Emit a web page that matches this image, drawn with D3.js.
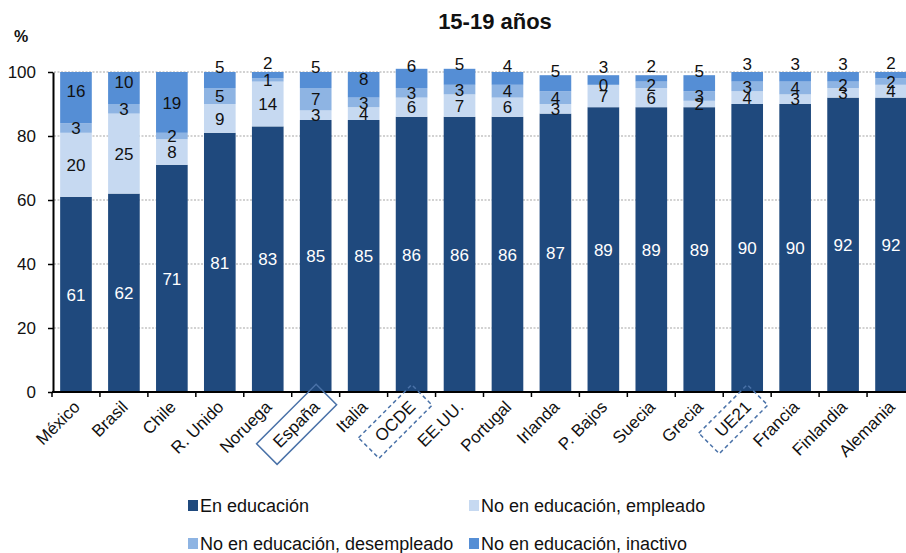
<!DOCTYPE html>
<html>
<head>
<meta charset="utf-8">
<script src="https://cdn.jsdelivr.net/npm/d3@7"></script>
<style>
  body { margin: 0; background: #fff; }
  svg { display: block; }
  text { font-family: "Liberation Sans", Arial, sans-serif; }
</style>
</head>
<body>
<svg id="chart" width="906" height="553"></svg>
<script>
// Share of 15-19 year olds by education / employment status (%)
const categories = ["México", "Brasil", "Chile", "R. Unido", "Noruega", "España", "Italia", "OCDE", "EE.UU.",
  "Portugal", "Irlanda", "P. Bajos", "Suecia", "Grecia", "UE21", "Francia", "Finlandia", "Alemania"];
const enEducacion = [61, 62, 71, 81, 83, 85, 85, 86, 86, 86, 87, 89, 89, 89, 90, 90, 92, 92];
const empleado    = [20, 25, 8, 9, 14, 3, 4, 6, 7, 6, 3, 7, 6, 2, 4, 3, 3, 4];
const desempleado = [3, 3, 2, 5, 1, 7, 3, 3, 3, 4, 4, 0, 2, 3, 3, 4, 2, 2];
const inactivo    = [16, 10, 19, 5, 2, 5, 8, 6, 5, 4, 5, 3, 2, 5, 3, 3, 3, 2];
const seriesNames = ["En educación", "No en educación, empleado",
  "No en educación, desempleado", "No en educación, inactivo"];
const yTicks = [0, 20, 40, 60, 80, 100];
const chartTitle = "15-19 años";
const yUnit = "%";
// Categories drawn with a frame around their axis label
const framed = [{ name: "España", dashed: false }, { name: "OCDE", dashed: true }, { name: "UE21", dashed: true }];

const colors = ["#1F497D", "#C6D9F1", "#8EB4E3", "#558ED5"];
const labelColors = ["#ffffff", "#111111", "#111111", "#111111"];

const svg = d3.select("#chart");
const W = 906;

const x = d3.scaleBand().domain(categories).range([52, 915]).paddingInner(0.34).paddingOuter(0.17);
const y = d3.scaleLinear().domain([0, 100]).range([392, 72]);

const keys = ["s0", "s1", "s2", "s3"];
const rows = categories.map((c, i) => ({
  cat: c, s0: enEducacion[i], s1: empleado[i], s2: desempleado[i], s3: inactivo[i]
}));
const stacked = d3.stack().keys(keys)(rows);

// Title and unit
svg.append("text").attr("x", 495).attr("y", 29).attr("text-anchor", "middle")
  .attr("font-size", 22).attr("font-weight", "bold").attr("fill", "#111").text(chartTitle);
svg.append("text").attr("x", 21).attr("y", 42).attr("text-anchor", "middle")
  .attr("font-size", 16).attr("font-weight", "bold").attr("fill", "#111").text(yUnit);

// Dotted gridlines
svg.append("g").selectAll("line").data(yTicks.filter(t => t > 0)).join("line")
  .attr("x1", 54).attr("x2", W).attr("y1", d => y(d)).attr("y2", d => y(d))
  .attr("stroke", "#c4c4c4").attr("stroke-width", 1.5).attr("stroke-dasharray", "2,1.5");

// Stacked bars
const layers = svg.append("g").selectAll("g").data(stacked).join("g")
  .attr("fill", (d, i) => colors[i]);
layers.selectAll("rect").data(d => d).join("rect")
  .attr("x", d => x(d.data.cat))
  .attr("width", x.bandwidth())
  .attr("y", d => y(d[1]))
  .attr("height", d => y(d[0]) - y(d[1]));

// Value labels: centred in each segment; the top segment's label is lifted
function labelValue(d, li) {
  const v = d[1] - d[0];
  let mid = (d[0] + d[1]) / 2;
  if (li === 3) mid += v <= 6 ? 4 : (v <= 16 ? 2 : 0);
  return mid;
}
stacked.forEach((layer, li) => {
  svg.append("g").selectAll("text").data(layer).join("text")
    .attr("x", d => x(d.data.cat) + x.bandwidth() / 2)
    .attr("y", d => y(labelValue(d, li)))
    .attr("dy", "0.36em")
    .attr("text-anchor", "middle")
    .attr("font-size", 17)
    .attr("fill", labelColors[li])
    .text(d => d.data[layer.key]);
});

// Y axis
const yAxis = svg.append("g").attr("transform", "translate(53,0)")
  .call(d3.axisLeft(y).tickValues(yTicks).tickSize(5).tickSizeOuter(0).tickPadding(12));
yAxis.select(".domain").attr("stroke", "#000").attr("stroke-width", 2);
yAxis.selectAll(".tick line").attr("stroke", "#000").attr("stroke-width", 1.5);
yAxis.selectAll(".tick text").attr("font-size", 17).attr("fill", "#111")
  .attr("font-family", "Liberation Sans, Arial, sans-serif");

// X axis: baseline and ticks between categories
const x0 = x.range()[0], step = x.step();
svg.append("line").attr("x1", 52).attr("x2", W).attr("y1", y(0)).attr("y2", y(0))
  .attr("stroke", "#000").attr("stroke-width", 2);
svg.append("g").selectAll("line").data(d3.range(categories.length + 1).map(i => x0 + i * step).filter(v => v <= W))
  .join("line")
  .attr("x1", d => d).attr("x2", d => d).attr("y1", y(0)).attr("y2", y(0) + 5)
  .attr("stroke", "#000").attr("stroke-width", 1.5);

// Category labels, rotated
const xl = svg.append("g").selectAll("g").data(categories).join("g")
  .attr("transform", d => `translate(${x(d) + x.bandwidth() / 2 + 5},${y(0) + 16}) rotate(-45)`);
xl.append("text").attr("text-anchor", "end").attr("font-size", 17).attr("fill", "#111").text(d => d);

// Frames around selected category labels
xl.each(function (d) {
  const f = framed.find(o => o.name === d);
  if (!f) return;
  const g = d3.select(this);
  const bb = g.select("text").node().getBBox();
  const padX = 13, padY = 5;
  g.insert("rect", "text")
    .attr("x", bb.x - padX).attr("y", bb.y - padY)
    .attr("width", bb.width + 2 * padX).attr("height", bb.height + 2 * padY)
    .attr("fill", "none").attr("stroke", "#4a72a8").attr("stroke-width", 1.5)
    .attr("stroke-dasharray", f.dashed ? "4,3" : null);
});

// Legend
const legendPos = [[188, 500], [469, 500], [188, 538], [469, 538]];
const lg = svg.append("g").selectAll("g").data(seriesNames).join("g")
  .attr("transform", (d, i) => `translate(${legendPos[i][0]},${legendPos[i][1]})`);
lg.append("rect").attr("width", 10).attr("height", 11).attr("fill", (d, i) => colors[i]);
lg.append("text").attr("x", 12).attr("y", 12).attr("font-size", 18).attr("fill", "#111").text(d => d);
</script>
</body>
</html>
